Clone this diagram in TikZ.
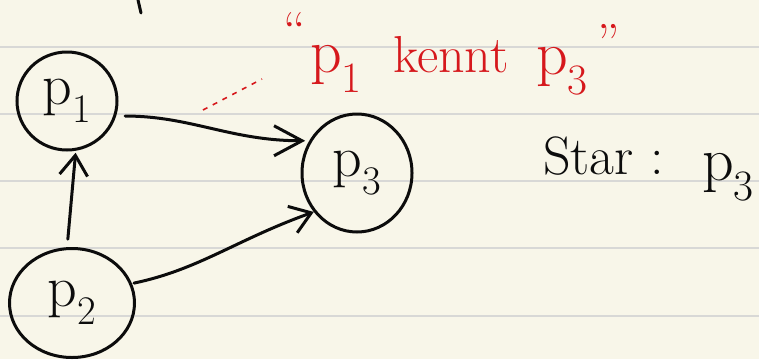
\documentclass[tikz,border=0pt]{standalone}
\usepackage{fontspec}
\usetikzlibrary{arrows.meta,shapes.geometric}
\definecolor{paper}{RGB}{248,246,233}
\definecolor{ruling}{RGB}{216,216,214}
\definecolor{ink}{RGB}{12,12,12}
\definecolor{redink}{RGB}{214,24,28}
\tikzset{
  proc/.style={ellipse, draw=ink, line width=3pt, inner sep=0pt,
    font=\fontsize{58}{64}\selectfont, text=ink},
  link/.style={draw=ink, line width=3pt, line cap=round, line join=round},
  longhead/.style={-{Straight Barb[length=28pt, width=30pt, line width=3pt]}},
  shorthead/.style={-{Straight Barb[length=20pt, width=28pt, line width=3pt]}},
  blacktxt/.style={text=ink, inner sep=0pt, font=\fontsize{54}{60}\selectfont},
  redtxt/.style={text=redink, inner sep=0pt, font=\fontsize{52}{58}\selectfont},
  bigp/.style={font=\fontsize{62}{68}\selectfont},
}
\begin{document}
\begin{tikzpicture}[x=1pt, y=-1pt]
  % notebook paper
  \fill[paper] (0,0) rectangle (759,359);
  \useasboundingbox (0,0) rectangle (759,359);
  \foreach \yy in {47,114,181,248,316}
    \draw[ruling, line width=1.4pt] (0,\yy) -- (759,\yy);

  % stray pen mark at the top
  \draw[link] (138,0) -- (141,13);

  % processes
  \node[proc, minimum width=100pt, minimum height=98pt] (p1) at (67,101) {p\textsubscript{1}};
  \node[proc, minimum width=110pt, minimum height=118pt] (p3) at (357,173) {p\textsubscript{3}};
  \node[proc, minimum width=125pt, minimum height=109pt] (p2) at (72,303) {p\textsubscript{2}};

  % who knows whom
  \draw[link, longhead, shorten <=9pt] (p1.-17) to[out=0, in=180] ([xshift=-4pt]p3.146);
  \draw[link, shorthead, shorten <=8pt, shorten >=2pt] (p2.95) -- (p1.-80);
  \draw[link, shorthead, shorten <=2pt] (p2.18) .. controls +(67,-14) and +(-78,28) .. (p3.222);

  % red annotation
  \draw[redink, line width=1.6pt, dash pattern=on 5pt off 6pt] (203,110) -- (262,79);
  \node[redtxt, anchor=base west] (q1) at (283,48) {“};
  \node[redtxt, bigp, anchor=base west] (rp1) at (310,72) {p\textsubscript{1}};
  \node[redtxt, anchor=base west] (kennt) at (393,72) {kennt};
  \node[redtxt, bigp, anchor=base west] (rp3) at (536,74) {p\textsubscript{3}};
  \node[redtxt, anchor=base west] (q2) at (597,60) {”};

  % result
  \node[blacktxt, anchor=base west] (star) at (543,174) {Star :};
  \node[blacktxt, bigp, anchor=base west] (starp) at (702,180) {p\textsubscript{3}};
\end{tikzpicture}
\end{document}
